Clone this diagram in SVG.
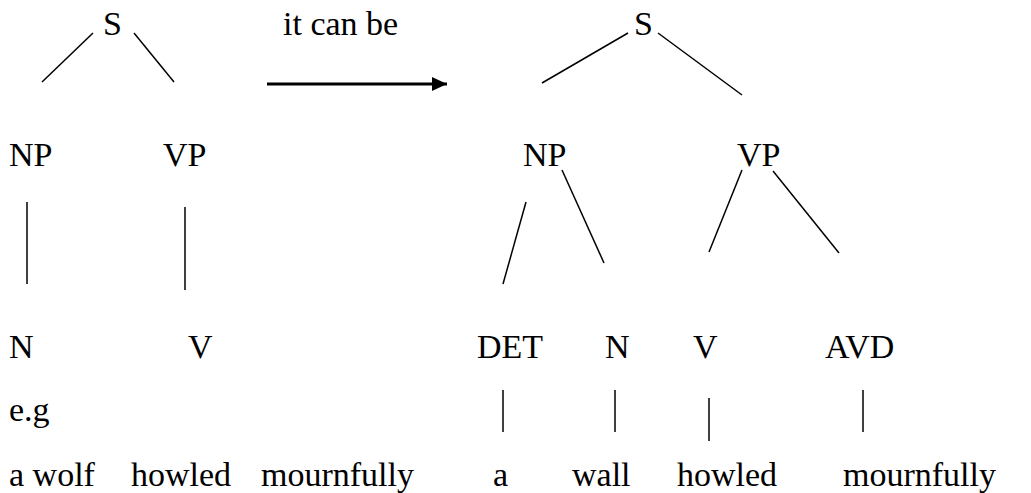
<svg xmlns="http://www.w3.org/2000/svg" width="1031" height="493" viewBox="0 0 1031 493">
<style>
text{font-family:"Liberation Serif","Times New Roman","DejaVu Serif",serif;font-size:34px;fill:#000}
.e{stroke:#000;stroke-width:1.5;fill:none}
.arr{stroke:#000;stroke-width:3;fill:none}
</style>
<defs>
<marker id="ah" markerUnits="userSpaceOnUse" markerWidth="16" markerHeight="16" refX="15" refY="7" orient="auto">
<path d="M0,0 L15,7 L0,14 Z" fill="#000"/>
</marker>
</defs>
<rect width="1031" height="493" fill="#fff"/>
<g id="connectors">
<line class="e" x1="93" y1="33" x2="42" y2="82"/>
<line class="e" x1="134" y1="33" x2="174" y2="82"/>
<line class="e" x1="27" y1="202" x2="27" y2="284"/>
<line class="e" x1="185" y1="207" x2="185" y2="290"/>
<line class="arr" x1="267" y1="84" x2="447" y2="84" marker-end="url(#ah)"/>
<line class="e" x1="628" y1="33" x2="542" y2="83"/>
<line class="e" x1="658" y1="33" x2="742" y2="95"/>
<line class="e" x1="526" y1="202" x2="503" y2="284"/>
<line class="e" x1="562" y1="170" x2="604" y2="263"/>
<line class="e" x1="742" y1="170" x2="709" y2="252"/>
<line class="e" x1="773" y1="171" x2="839" y2="253"/>
<line class="e" x1="503" y1="390" x2="503" y2="432"/>
<line class="e" x1="615" y1="390" x2="615" y2="432"/>
<line class="e" x1="709" y1="398" x2="709" y2="441"/>
<line class="e" x1="863" y1="390" x2="863" y2="432"/>
</g>
<g id="label-arrow"><text x="283" y="35">it can be</text></g>
<g id="l-S"><text x="103" y="35">S</text></g>
<g id="l-NP"><text x="9" y="166">NP</text></g>
<g id="l-VP"><text x="163" y="166">VP</text></g>
<g id="l-N"><text x="9" y="358">N</text></g>
<g id="l-V"><text x="188" y="358">V</text></g>
<g id="l-eg"><text x="9" y="421">e.g</text></g>
<g id="l-words"><text x="9" y="486">a wolf</text><text x="131" y="486">howled</text><text x="261" y="486">mournfully</text></g>
<g id="r-S"><text x="634" y="35">S</text></g>
<g id="r-NP"><text x="523" y="166">NP</text></g>
<g id="r-VP"><text x="737" y="166">VP</text></g>
<g id="r-DET"><text x="477" y="358">DET</text></g>
<g id="r-N"><text x="605" y="358">N</text></g>
<g id="r-V"><text x="693" y="358">V</text></g>
<g id="r-AVD"><text x="825" y="358">AVD</text></g>
<g id="r-a"><text x="493" y="486">a</text></g>
<g id="r-wall"><text x="572" y="486">wall</text></g>
<g id="r-howled"><text x="677" y="486">howled</text></g>
<g id="r-mournfully"><text x="843" y="486">mournfully</text></g>
</svg>
